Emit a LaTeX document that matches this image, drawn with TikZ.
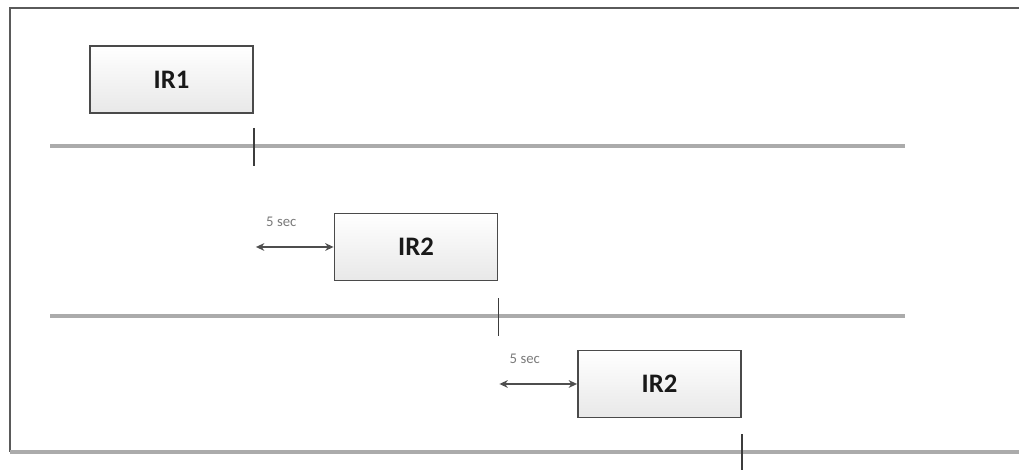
\documentclass[tikz,border=0pt]{standalone}
\usepackage{fontspec}
\usepackage{xcolor}
\usepackage{tikz}
\usetikzlibrary{arrows.meta,positioning,calc,shadows}
\setmainfont{Carlito}
\definecolor{frameline}{HTML}{5A5A5A}
\definecolor{timeline}{HTML}{ABABAB}
\definecolor{tickline}{HTML}{3C3C3C}
\definecolor{boxedge}{HTML}{4A4A4A}
\definecolor{durline}{HTML}{4E4E4E}
\definecolor{durtext}{HTML}{7A7A7A}
\tikzset{
  irbox/.style={draw=boxedge,line width=1.3pt,top color=white,bottom color=black!9,
    minimum width=4.075cm,minimum height=1.675cm,inner sep=0pt,
    font=\fontsize{19}{21}\selectfont\bfseries,text=black!90,
    drop shadow={shadow xshift=0.7pt,shadow yshift=-0.7pt,opacity=0.35}},
  tline/.style={timeline,line width=2.8pt},
  tickmark/.style={tickline,line width=1.3pt},
  dur/.style={<->,durline,line width=1.4pt},
  seclbl/.style={font=\fontsize{10.5}{12}\selectfont,text=durtext,inner sep=0pt}
}

\begin{document}
\begin{tikzpicture}[>={Stealth[length=6pt,width=5.5pt]}]
\useasboundingbox (0,0) rectangle (25.475,11.75);
% frame and time axes
\draw[frameline,line width=1.2pt] (25.6,11.55) -- (0.25,11.55) -- (0.25,0.45);
\draw[tline] (1.25,8.1) -- (22.625,8.1);
\draw[tline] (1.25,3.85) -- (22.625,3.85);
\draw[tline] (0.25,0.45) -- (25.6,0.45);
% intervals
\node[irbox] (ir1) at (4.2875,9.7625) {IR1};
\node[irbox] (ir2a) at (10.4,5.575) {IR2};
\node[irbox] (ir2b) at (16.4875,2.15) {IR2};
\draw[tickmark] ($(ir1.south east)+(0,-0.35)$) -- ++(0,-0.95);
\draw[tickmark] ($(ir2a.south east)+(0,-0.425)$) -- ++(0,-0.95);
\draw[tickmark] ($(ir2b.south east)+(0,-0.4)$) -- ++(0,-1);
% 5 sec gaps
\coordinate (d1) at ($(ir1.south east |- ir2a.west)+(0.05,0)$);
\coordinate (d2) at ($(ir2a.south east |- ir2b.west)+(0.025,0)$);
\draw[dur] (d1) -- (ir2a.west);
\draw[dur] (d2) -- (ir2b.west);
\node[seclbl,above right=0.5cm and 0.25cm of d1] (s1) {5 sec};
\node[seclbl,above right=0.5cm and 0.25cm of d2] (s2) {5 sec};
\end{tikzpicture}
\end{document}
